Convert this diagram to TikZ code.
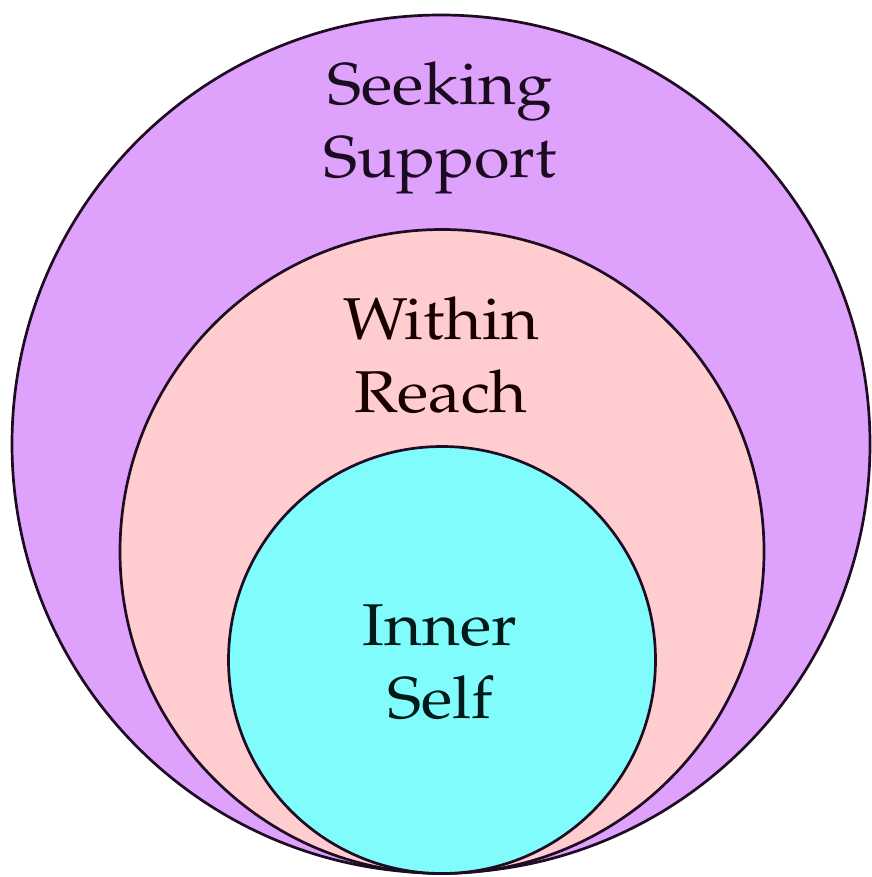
\documentclass[tikz,border=0pt]{standalone}
\usepackage[T1]{fontenc}
\usepackage{mathpazo}
\definecolor{outerfill}{HTML}{DEA2FC}
\definecolor{midfill}{HTML}{FFCDD0}
\definecolor{innerfill}{HTML}{80FCFC}
\definecolor{rimcol}{HTML}{1E0C22}
\tikzset{
  ring/.style={circle, draw=rimcol, line width=2.7pt, inner sep=0pt},
  lbl/.style={align=center, font=\fontsize{59}{73}\selectfont, inner sep=0pt},
  widetext/.style={xscale=1.1, transform shape},
}
\begin{document}
\begin{tikzpicture}[x=1pt,y=1pt]
\useasboundingbox (0,0) rectangle (871,-877);
\fill[white] (0,0) rectangle (871,-877);
\node[ring, fill=outerfill, minimum size=858pt] (outer) at (441,-444) {};
\node[ring, fill=midfill, minimum size=644pt] (middle) at (442,-551.5) {};
\node[ring, fill=innerfill, minimum size=427pt] (inner) at (442,-660) {};
\begin{scope}[shift={(440,-128)}, widetext]
\node[lbl, text=rimcol!90!black] (seek) at (0,0) {Seeking\\Support};
\end{scope}
\begin{scope}[shift={(441,-355)}, widetext]
\node[lbl, text=black!90!red] (within) at (0,0) {Within\\Reach};
\end{scope}
\begin{scope}[shift={(440,-662)}, widetext]
\node[lbl, text=black!80!teal] (self) at (0,0) {Inner\\Self};
\end{scope}
\end{tikzpicture}
\end{document}
